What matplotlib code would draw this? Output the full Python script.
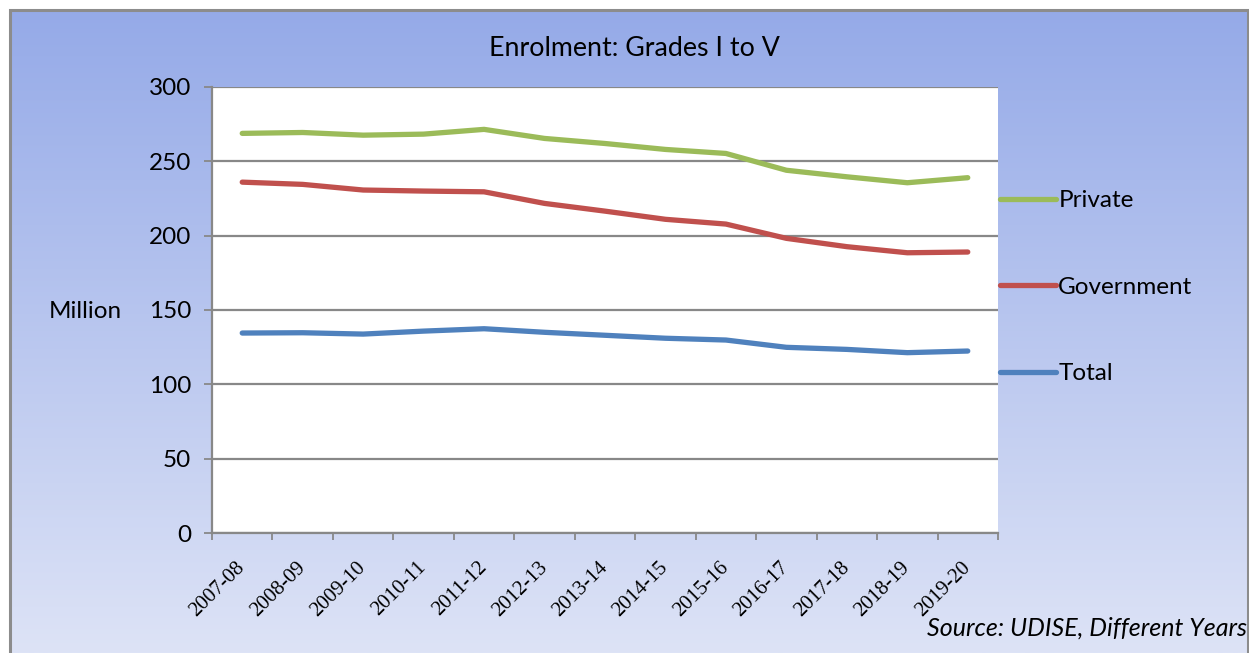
import numpy as np
import matplotlib
matplotlib.use("Agg")
import matplotlib.pyplot as plt
from matplotlib.patches import Rectangle
from matplotlib.colors import LinearSegmentedColormap
from matplotlib.transforms import ScaledTranslation

years = ["2007-08", "2008-09", "2009-10", "2010-11", "2011-12", "2012-13", "2013-14",
         "2014-15", "2015-16", "2016-17", "2017-18", "2018-19", "2019-20"]
private = [268.8, 269.4, 267.6, 268.3, 271.5, 265.4, 262.0, 258.0, 255.3, 244.0, 239.6, 235.6, 239.0]
government = [236.0, 234.5, 230.7, 230.0, 229.5, 221.7, 216.5, 211.0, 207.8, 198.2, 192.6, 188.5, 189.0]
total = [134.5, 134.7, 133.8, 135.8, 137.4, 135.0, 133.0, 131.0, 129.8, 124.9, 123.5, 121.3, 122.4]
yticks = [0, 50, 100, 150, 200, 250, 300]

W, H = 1249, 653
fig = plt.figure(figsize=(W / 100, H / 100), dpi=100)
fig.patch.set_facecolor("white")

SANS = ["Lato", "DejaVu Sans"]
SERIF = ["Liberation Serif", "DejaVu Serif"]
FS = 17.5

# gradient background panel
bg = fig.add_axes([10 / W, 0, (W - 11) / W, 1 - 10 / H])
bg.set_axis_off()
cmap = LinearSegmentedColormap.from_list("g", ["#95aae8", "#dde3f6"])
grad = np.linspace(0, 1, 256).reshape(-1, 1)
bg.imshow(grad, aspect="auto", cmap=cmap, extent=[0, 1, 0, 1], origin="upper")
bg.set_xlim(0, 1)
bg.set_ylim(0, 1)
fig.patches.append(Rectangle((10 / W, -0.01), (W - 11) / W, 1 - 10 / H + 0.01,
                             transform=fig.transFigure, fill=False,
                             edgecolor="#8c8c8c", linewidth=2.2, zorder=5))

# main plot
x0, x1, ytop, ybot = 212, 998, 87, 533
ax = fig.add_axes([x0 / W, 1 - ybot / H, (x1 - x0) / W, (ybot - ytop) / H])
ax.set_facecolor("white")
x = np.arange(len(years))
ax.plot(x, private, color="#9bbb59", lw=3.8, solid_capstyle="round", label="Private", zorder=3)
ax.plot(x, government, color="#c0504d", lw=3.8, solid_capstyle="round", label="Government", zorder=3)
ax.plot(x, total, color="#4f81bd", lw=3.8, solid_capstyle="round", label="Total", zorder=3)

ax.set_xlim(-0.5, len(years) - 0.5)
ax.set_ylim(0, 300)
ax.set_yticks(yticks)
ax.set_yticklabels([str(v) for v in yticks], fontsize=FS, family=SANS)
ax.yaxis.grid(True, color="#888888", lw=1.6)
ax.set_axisbelow(True)
ax.set_xticks(np.arange(-0.5, len(years)), minor=False)
ax.set_xticklabels([])
ax.set_xticks(x, minor=True)
labels = ax.set_xticklabels(years, minor=True, rotation=45, ha="right", va="center",
                            rotation_mode="anchor", fontsize=15, family=SERIF)
off = ScaledTranslation(6 / 100, 0, fig.dpi_scale_trans)
for lab in labels:
    lab.set_transform(lab.get_transform() + off)
ax.tick_params(axis="x", which="minor", length=0, pad=23)
ax.tick_params(axis="x", which="major", length=5, color="#888888", width=1.3)
ax.tick_params(axis="y", length=6, color="#888888", width=1.3, pad=9)
for s in ["top", "right"]:
    ax.spines[s].set_visible(False)
for s in ["left", "bottom"]:
    ax.spines[s].set_color("#888888")
    ax.spines[s].set_linewidth(1.6)

fig.text(634 / W, 1 - 48 / H, "Enrolment: Grades I to V", ha="center", va="center",
         fontsize=19.3, family=SANS)
fig.text(85 / W, 1 - 311 / H, "Million", ha="center", va="center", fontsize=FS, family=SANS)
fig.text(1247 / W, 1 - 628 / H, "Source: UDISE, Different Years", ha="right", va="center",
         fontsize=18, style="italic", family=SANS)

leg = ax.legend(loc="upper left", bbox_to_anchor=(1000 / W, 1 - 190 / H),
                bbox_transform=fig.transFigure, frameon=False,
                prop={"family": SANS, "size": FS}, handlelength=2.3, handletextpad=0.1,
                labelspacing=2.7, borderaxespad=0, borderpad=0)

fig.savefig("out.png", dpi=100)
